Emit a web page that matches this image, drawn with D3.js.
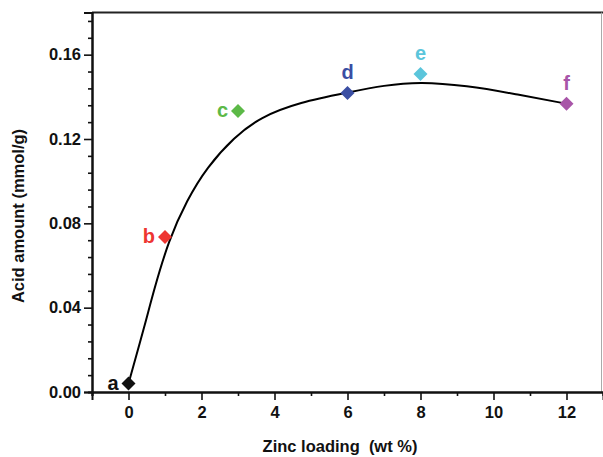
<!DOCTYPE html>
<html>
<head>
<meta charset="utf-8">
<script src="https://cdn.jsdelivr.net/npm/d3@7/dist/d3.min.js"></script>
<style>
  body { margin: 0; background: #fff; }
  svg { display: block; font-family: Arial, 'Liberation Sans', sans-serif; }
  .tick-label { font-size: 16.5px; font-weight: bold; fill: #111; }
  .axis-title { font-size: 16.5px; font-weight: bold; fill: #111; white-space: pre; }
  .pt-label { font-size: 20px; font-weight: bold; }
</style>
</head>
<body>
<svg id="chart" width="603" height="457"></svg>
<script>
// measured samples
var loading = [0, 1, 3, 6, 8, 12]
var acidAmount = [0.004, 0.0735, 0.1333, 0.1418, 0.1508, 0.1367]
var sampleNames = ['a', 'b', 'c', 'd', 'e', 'f']
var sampleColors = ['#111111', '#ee3531', '#5cb947', '#3a4ea3', '#5bc5db', '#a855a8']

// fitted curve
var curveX = [0, 0.46, 0.69, 1.1, 1.6, 2.15, 2.9, 3.6, 4.7, 6, 7, 8, 9.25, 10.6, 12]
var curveY = [0.004, 0.0325, 0.048, 0.072, 0.091, 0.1067, 0.1209, 0.1303, 0.1375, 0.142, 0.1455, 0.1472, 0.1453, 0.1414, 0.1367]

var xMajor = [0, 2, 4, 6, 8, 10, 12]
var xMinor = [-1, 1, 3, 5, 7, 9, 11, 13]
var yMajor = [0, 0.04, 0.08, 0.12, 0.16]
var yMinor = [0.008, 0.016, 0.024, 0.032, 0.048, 0.056, 0.064, 0.072, 0.088, 0.096, 0.104, 0.112, 0.128, 0.136, 0.144, 0.152, 0.168, 0.176]

var svg = d3.select('#chart')
var x = d3.scaleLinear().domain([-1, 13]).range([92, 603])
var y = d3.scaleLinear().domain([0, 0.18]).range([392, 12.5])

// frame top and right
svg.append('line').attr('x1', 92).attr('x2', 603).attr('y1', 12.5).attr('y2', 12.5)
  .attr('stroke', '#222').attr('stroke-width', 2)
svg.append('line').attr('x1', 601.5).attr('x2', 601.5).attr('y1', 12.5).attr('y2', 392)
  .attr('stroke', '#aaa').attr('stroke-width', 1)

// x axis
var xAxisG = svg.append('g').attr('transform', 'translate(0,392)')
xAxisG.call(d3.axisBottom(x).tickValues(xMajor).tickSize(8).tickFormat(d3.format('d')))
xAxisG.append('g').call(d3.axisBottom(x).tickValues(xMinor).tickSize(4).tickFormat(''))
xAxisG.selectAll('.domain').attr('stroke', '#111').attr('stroke-width', 2)
xAxisG.selectAll('.tick line').attr('stroke', '#111').attr('stroke-width', 1.6)
xAxisG.selectAll('.tick text').attr('class', 'tick-label').attr('y', 14).attr('font-family', null).attr('font-size', null)

// y axis
var yAxisG = svg.append('g').attr('transform', 'translate(92,0)')
yAxisG.call(d3.axisLeft(y).tickValues(yMajor).tickSize(8).tickFormat(d3.format('.2f')))
yAxisG.append('g').call(d3.axisLeft(y).tickValues(yMinor).tickSize(4).tickFormat(''))
yAxisG.selectAll('.domain').attr('stroke', '#111').attr('stroke-width', 2)
yAxisG.selectAll('.tick line').attr('stroke', '#111').attr('stroke-width', 1.6)
yAxisG.selectAll('.tick text').attr('class', 'tick-label').attr('x', -11).attr('font-family', null).attr('font-size', null)

// axis titles
svg.append('text').attr('class', 'axis-title')
  .attr('x', 340).attr('y', 452).attr('text-anchor', 'middle')
  .text('Zinc loading  (wt %)')
svg.append('text').attr('class', 'axis-title')
  .attr('transform', 'translate(24,216) rotate(-90)').attr('text-anchor', 'middle')
  .text('Acid amount (mmol/g)')

// fitted curve
var curvePts = curveX.map(function (d, i) { return [d, curveY[i]] })
var line = d3.line()
  .x(function (d) { return x(d[0]) })
  .y(function (d) { return y(d[1]) })
  .curve(d3.curveBasis)
svg.append('path').datum(curvePts)
  .attr('d', line)
  .attr('fill', 'none').attr('stroke', '#000').attr('stroke-width', 2)

// sample markers
var samples = loading.map(function (d, i) {
  return { x: d, y: acidAmount[i], name: sampleNames[i], color: sampleColors[i] }
})
var diamond = d3.symbol().type(d3.symbolDiamond2).size(125)
svg.selectAll('.pt').data(samples).enter().append('path')
  .attr('class', 'pt')
  .attr('d', diamond)
  .attr('transform', function (d) { return 'translate(' + x(d.x) + ',' + y(d.y) + ')' })
  .attr('fill', function (d) { return d.color })

// point labels: a, b, c to the left; d, e, f above
svg.selectAll('.pt-label').data(samples).enter().append('text')
  .attr('class', 'pt-label')
  .attr('fill', function (d) { return d.color })
  .attr('text-anchor', function (d) { return d.x < 4 ? 'end' : 'middle' })
  .attr('x', function (d) { return d.x < 4 ? x(d.x) - 10 : x(d.x) })
  .attr('y', function (d) { return d.x < 4 ? y(d.y) + 6 : y(d.y) - 14 })
  .text(function (d) { return d.name })
</script>
</body>
</html>
